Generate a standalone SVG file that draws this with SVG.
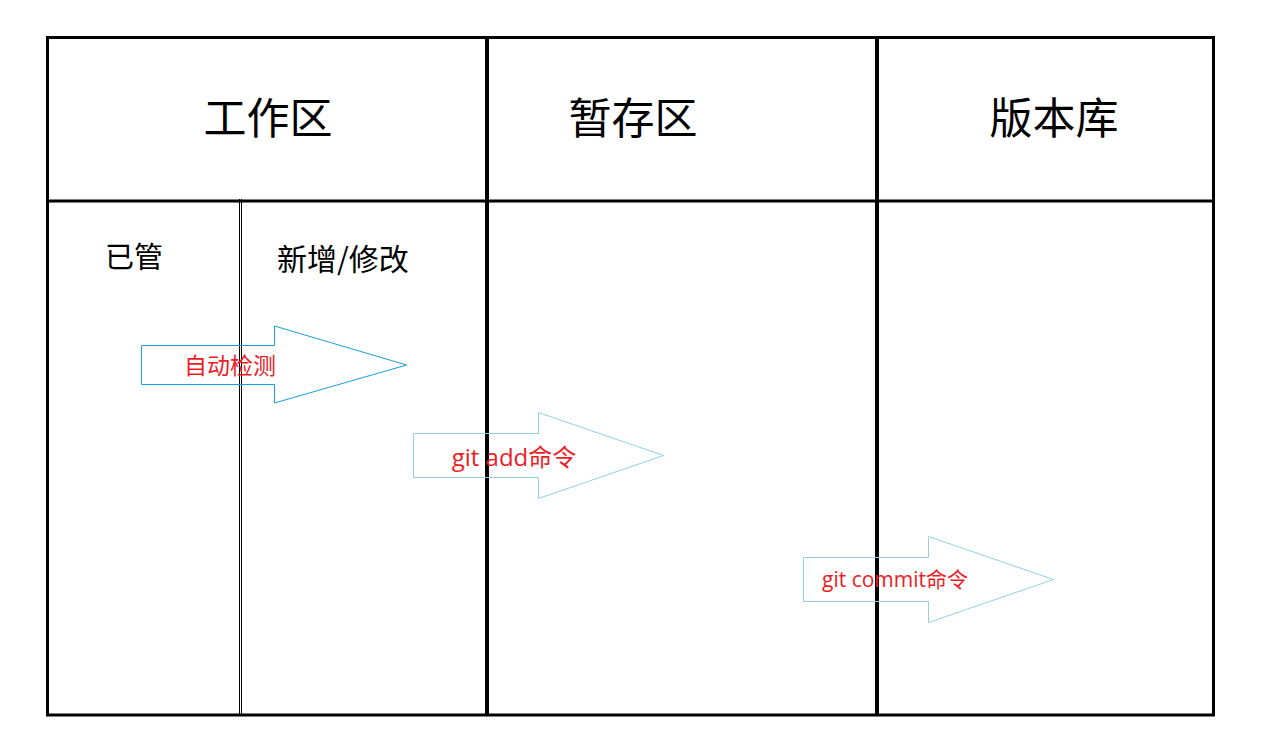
<svg xmlns="http://www.w3.org/2000/svg" width="1271" height="743" viewBox="0 0 1271 743">
<style>
.frame{stroke:#000;stroke-width:3;fill:none}
.div{stroke:#000;stroke-width:4;fill:none}
.thin{stroke:#000;stroke-width:1;fill:none}
.title{font-family:"Noto Sans CJK SC","Microsoft YaHei",sans-serif;font-size:43px;fill:#000;text-anchor:middle}
.sub{font-family:"Noto Sans CJK SC",sans-serif;font-size:29px;fill:#000;text-anchor:middle}
.lbl{font-family:"Open Sans","Noto Sans CJK SC",sans-serif;fill:#ee1c25;text-anchor:middle}
.arr1{fill:#fff;fill-opacity:0;stroke:#1a9ddc;stroke-width:1}
.arr2{fill:none;stroke:#90d2de;stroke-width:1}
</style>
<rect width="1271" height="743" fill="#fff"/>
<g id="table">
<rect class="frame" x="47.5" y="37.5" width="1166" height="677.5"/>
<line class="frame" x1="47" y1="201" x2="1213" y2="201"/>
<line class="div" x1="487" y1="37" x2="487" y2="716"/>
<line class="div" x1="877" y1="37" x2="877" y2="716"/>
<line class="thin" x1="239.5" y1="199" x2="239.5" y2="715"/>
<line class="thin" x1="241.5" y1="199" x2="241.5" y2="715"/>
</g>
<g id="workspace"><text class="title" x="268" y="134">工作区</text></g>
<g id="staging"><text class="title" x="633" y="134">暂存区</text></g>
<g id="repository"><text class="title" x="1054" y="134">版本库</text></g>
<g id="tracked"><text class="sub" x="134" y="268">已管</text></g>
<g id="modified"><text class="sub" x="343" y="270" style="font-size:30px">新增/修改</text></g>
<g id="connectors">
<g id="auto-detect">
<polygon class="arr1" points="141.5,345.5 274.5,345.5 274.5,326 406.5,365 274.5,403 274.5,384.5 141.5,384.5"/>
<text class="lbl" x="230" y="374" style="font-size:23px">自动检测</text>
</g>
<g id="git-add">
<polygon class="arr2" points="413.5,433.5 538.5,433.5 538.5,412.5 663.5,455.5 538.5,498.5 538.5,477.5 413.5,477.5"/>
<text class="lbl" x="514" y="466" style="font-size:24px">git add命令</text>
</g>
<g id="git-commit">
<polygon class="arr2" points="803.5,557.5 928.5,557.5 928.5,536.5 1053.5,579.5 928.5,622.5 928.5,601.5 803.5,601.5"/>
<text class="lbl" x="895" y="587" style="font-size:21px">git commit命令</text>
</g>
</g>
</svg>
